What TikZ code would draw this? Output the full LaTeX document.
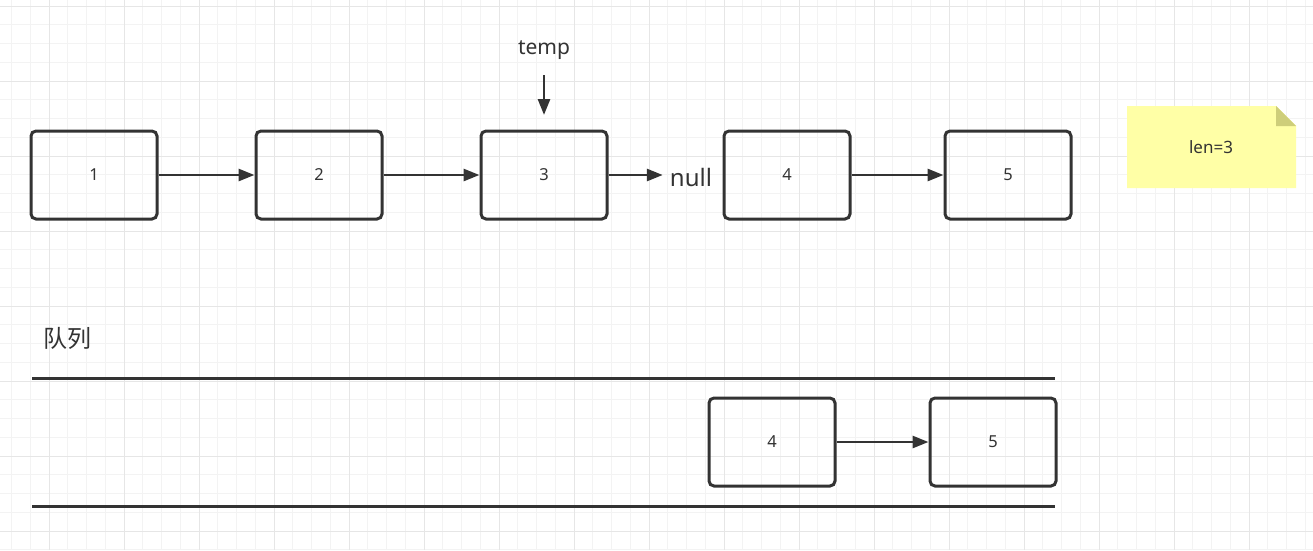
\documentclass[tikz,border=0pt]{standalone}
\usepackage{fontspec}
\setmainfont{Noto Sans}
\newfontfamily\cjk{Noto Sans CJK SC}
\usetikzlibrary{arrows.meta}
\definecolor{ink}{HTML}{333333}
\definecolor{gridminor}{HTML}{F3F3F3}
\definecolor{gridmajor}{HTML}{E6E6E6}
\definecolor{notefill}{HTML}{FFFFA6}
\definecolor{notefold}{HTML}{CECE7A}
\begin{document}
\begin{tikzpicture}[x=1pt,y=-1pt,
  nodebox/.style={draw=ink, line width=3pt, rounded corners=5pt,
    minimum width=126pt, minimum height=88pt, inner sep=0pt,
    text=ink, font=\fontsize{16.5}{19}\selectfont},
  arr/.style={draw=ink, line width=2.8pt, -{Triangle[length=16pt,width=12pt]}},
  rule/.style={draw=ink, line width=3pt},
  minorline/.style={draw=gridminor, line width=1pt},
  majorline/.style={draw=gridmajor, line width=1pt},
  label/.style={text=ink, inner sep=0pt}]
\useasboundingbox (0,0) rectangle (1313,550);
\fill[white] (0,0) rectangle (1313,550);
% grid
\foreach \i in {0,...,70} \draw[minorline] ({11.5+18.75*\i},0) -- ++(0,550);
\foreach \i in {0,...,29} \draw[minorline] (0,{6+18.75*\i}) -- ++(1313,0);
\foreach \i in {0,...,17} \draw[majorline] ({49+75*\i},0) -- ++(0,550);
\foreach \i in {0,...,7} \draw[majorline] (0,{6+75*\i}) -- ++(1313,0);

% top list
\node[nodebox] (b1) at (94,175) {1};
\node[nodebox] (b2) at (319,175) {2};
\node[nodebox] (b3) at (544,175) {3};
\node[nodebox] (b4) at (787,175) {4};
\node[nodebox] (b5) at (1008,175) {5};
\node[label, font=\fontsize{24}{27}\selectfont, inner xsep=7pt] (nul) at (691,177) {null};
\draw[arr] (b1.east) -- (b2.west);
\draw[arr] (b2.east) -- (b3.west);
\draw[arr] (b3.east) -- (b3.east -| nul.west);
\draw[arr] (b4.east) -- (b5.west);

% temp pointer
\node[label, font=\fontsize{21}{24}\selectfont] (temp) at (544,50) {temp};
\coordinate (tA) at (544,75);
\coordinate (tB) at (544,115);
\draw[arr] (tA) -- (tB);

% note
\fill[notefill] (1127,106) -- (1276,106) -- (1296,126) -- (1296,188) -- (1127,188) -- cycle;
\fill[notefold] (1276,106) -- (1276,126) -- (1296,126) -- cycle;
\node[label, font=\fontsize{17}{20}\selectfont] (len) at (1211,147) {len=3};

% queue
\node[label, font=\cjk\fontsize{24}{28}\selectfont] (q) at (67,338) {队列};
\coordinate (qt1) at (32,378);
\coordinate (qt2) at (1055,378);
\coordinate (qb1) at (32,506);
\coordinate (qb2) at (1055,506);
\draw[rule] (qt1) -- (qt2);
\draw[rule] (qb1) -- (qb2);
\node[nodebox] (c4) at (772,442) {4};
\node[nodebox] (c5) at (993,442) {5};
\draw[arr] (c4.east) -- (c5.west);
\end{tikzpicture}
\end{document}
